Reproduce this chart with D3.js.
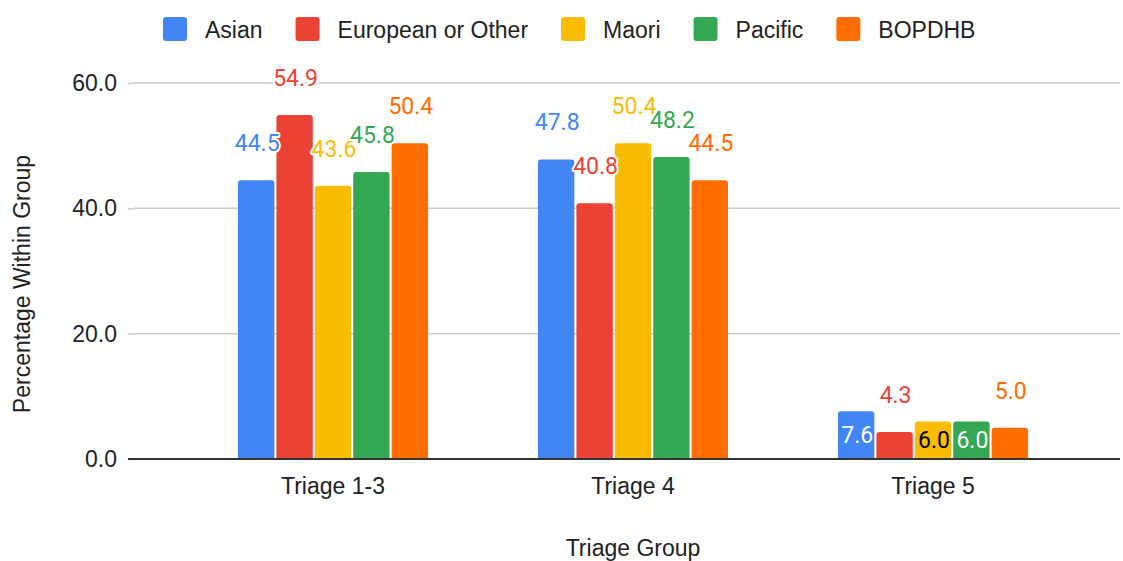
<!DOCTYPE html>
<html>
<head>
<meta charset="utf-8">
<script src="https://cdn.jsdelivr.net/npm/d3@7"></script>
<style>
	body { margin: 0; background: #fff; }
	svg { display: block; }
</style>
</head>
<body>
<svg id="chart" width="1123" height="561"></svg>
<script>
// values
var groups = ['Triage 1-3', 'Triage 4', 'Triage 5'];
var seriesNames = ['Asian', 'European or Other', 'Maori', 'Pacific', 'BOPDHB'];
var seriesColors = ['#4285F4', '#EA4335', '#FBBC04', '#34A853', '#FF6D01'];

var asian = [44.5, 47.8, 7.6];
var european = [54.9, 40.8, 4.3];
var maori = [43.6, 50.4, 6.0];
var pacific = [45.8, 48.2, 6.0];
var bopdhb = [50.4, 44.5, 5.0];

// where each value label sits: 'out' above the bar, 'in' centred inside it
var asianLabels = ['out', 'out', 'in'];
var europeanLabels = ['out', 'out', 'out'];
var maoriLabels = ['out', 'out', 'in'];
var pacificLabels = ['out', 'out', 'in'];
var bopdhbLabels = ['out', 'out', 'out'];
// text colour when the label is inside the bar
var insideColors = ['#ffffff', '#ffffff', '#000000', '#ffffff', '#ffffff'];

var yTicks = [0, 20, 40, 60];

var seriesValues = [asian, european, maori, pacific, bopdhb];
var seriesLabels = [asianLabels, europeanLabels, maoriLabels, pacificLabels, bopdhbLabels];

var svg = d3.select('#chart');
var axisFont = '"Liberation Sans", Arial, sans-serif';
var labelFont = 'Roboto, "Liberation Sans", sans-serif';

var plotLeft = 134, plotRight = 1120;

var y = d3.scaleLinear().domain([0, 60]).range([459, 83]);

var x0 = d3.scaleBand()
	.domain(groups)
	.range([183, 1083])
	.paddingInner(0.3667)
	.paddingOuter(0.18335);

var x1 = d3.scaleBand()
	.domain(seriesNames)
	.range([0, x0.bandwidth()])
	.paddingInner(0.053);

// flatten into one row per bar
var bars = [];
seriesNames.forEach(function(s, si){
	groups.forEach(function(g, gi){
		bars.push({
			series: s,
			si: si,
			group: g,
			value: seriesValues[si][gi],
			place: seriesLabels[si][gi]
		});
	});
});

// gridlines + y ticks
var yAxis = d3.axisLeft(y)
	.tickValues(yTicks)
	.tickSize(6)
	.tickPadding(11)
	.tickFormat(d3.format('.1f'));

var gy = svg.append('g')
	.attr('transform', 'translate(' + plotLeft + ',0)')
	.call(yAxis);
gy.select('.domain').remove();
gy.selectAll('.tick line').attr('stroke', '#cccccc').attr('stroke-width', 1.5);
gy.selectAll('.tick text')
	.attr('fill', '#222')
	.style('font-family', axisFont)
	.style('font-size', '23px');

svg.append('g')
	.selectAll('line')
	.data(yTicks.filter(function(d){ return d !== 0; }))
	.enter()
	.append('line')
	.attr('x1', plotLeft)
	.attr('x2', plotRight)
	.attr('y1', function(d){ return y(d); })
	.attr('y2', function(d){ return y(d); })
	.attr('stroke', '#cccccc')
	.attr('stroke-width', 1.5);

// bars with rounded top corners
var barPath = function(d){
	var bx = x0(d.group) + x1(d.series);
	var w = x1.bandwidth();
	var top = y(d.value);
	var bottom = y(0);
	var r = Math.min(3, (bottom - top) / 2);
	return 'M' + bx + ',' + bottom +
		'V' + (top + r) +
		'Q' + bx + ',' + top + ' ' + (bx + r) + ',' + top +
		'H' + (bx + w - r) +
		'Q' + (bx + w) + ',' + top + ' ' + (bx + w) + ',' + (top + r) +
		'V' + bottom + 'Z';
};

svg.append('g')
	.selectAll('path')
	.data(bars)
	.enter()
	.append('path')
	.attr('d', barPath)
	.attr('fill', function(d){ return seriesColors[d.si]; });

// baseline
svg.append('line')
	.attr('x1', plotLeft - 6)
	.attr('x2', plotRight)
	.attr('y1', y(0))
	.attr('y2', y(0))
	.attr('stroke', '#333')
	.attr('stroke-width', 2);

// value labels
var lbl = svg.append('g')
	.selectAll('text')
	.data(bars)
	.enter()
	.append('text')
	.attr('x', function(d){ return x0(d.group) + x1(d.series) + x1.bandwidth() / 2 + 1; })
	.attr('y', function(d){
		if (d.place == 'in'){
			return (y(d.value) + y(0)) / 2;
		}
		return y(d.value) - 29;
	})
	.attr('dy', function(d){ return d.place == 'in' ? '0.36em' : null; })
	.attr('text-anchor', 'middle')
	.style('font-family', labelFont)
	.style('font-size', '23px')
	.attr('fill', function(d){ return d.place == 'in' ? insideColors[d.si] : seriesColors[d.si]; })
	.attr('stroke', function(d){ return d.place == 'in' ? 'none' : '#fff'; })
	.attr('stroke-width', 4)
	.attr('stroke-linejoin', 'round')
	.attr('paint-order', 'stroke')
	.text(function(d){ return d3.format('.1f')(d.value); });

// x category labels
svg.append('g')
	.selectAll('text')
	.data(groups)
	.enter()
	.append('text')
	.attr('x', function(d){ return x0(d) + x0.bandwidth() / 2; })
	.attr('y', 494)
	.attr('text-anchor', 'middle')
	.attr('fill', '#222')
	.style('font-family', axisFont)
	.style('font-size', '23px')
	.text(function(d){ return d; });

// axis titles
svg.append('text')
	.attr('x', 633)
	.attr('y', 556)
	.attr('text-anchor', 'middle')
	.attr('fill', '#222')
	.style('font-family', axisFont)
	.style('font-size', '23px')
	.text('Triage Group');

svg.append('text')
	.attr('transform', 'translate(30,284) rotate(-90)')
	.attr('text-anchor', 'middle')
	.attr('fill', '#222')
	.style('font-family', axisFont)
	.style('font-size', '23px')
	.text('Percentage Within Group');

// legend
var legend = svg.append('g');
var lx = 163;
seriesNames.forEach(function(s, i){
	legend.append('rect')
		.attr('x', lx)
		.attr('y', 17)
		.attr('width', 24)
		.attr('height', 24)
		.attr('rx', 3)
		.attr('fill', seriesColors[i]);
	var t = legend.append('text')
		.attr('x', lx + 42)
		.attr('y', 38)
		.attr('fill', '#222')
		.style('font-family', axisFont)
		.style('font-size', '23px')
		.text(s);
	lx = lx + 42 + t.node().getComputedTextLength() + 33;
});
</script>
</body>
</html>
